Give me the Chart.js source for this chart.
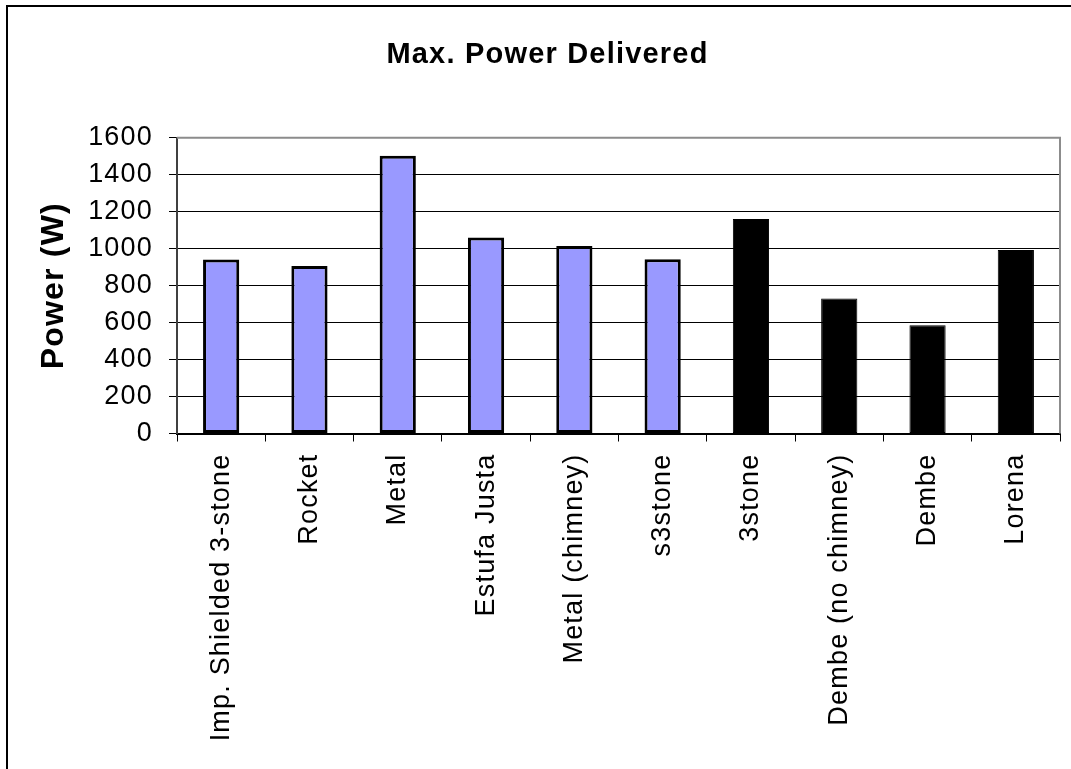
<!DOCTYPE html>
<html>
<head>
<meta charset="utf-8">
<title>Max. Power Delivered</title>
<script src="https://cdn.jsdelivr.net/npm/chart.js@4/dist/chart.umd.min.js"></script>
<style>
  html, body { margin: 0; padding: 0; background: #fff; overflow: hidden; }
  #wrap { position: relative; width: 1071px; height: 769px; }
  #frame { position: absolute; left: 6px; top: 5px; width: 1200px; height: 900px;
           border-left: 2px solid #000; border-top: 2px solid #000; pointer-events: none; }
  canvas { position: absolute; left: 0; top: 0; }
</style>
</head>
<body>
<div id="wrap">
  <canvas id="chart" width="1071" height="769"></canvas>
  <div id="frame"></div>
</div>
<script>
// Stove names along the category axis
const categories = [
  'Imp. Shielded 3-stone', 'Rocket', 'Metal', 'Estufa Justa', 'Metal (chimney)',
  's3stone', '3stone', 'Dembe (no chimney)', 'Dembe', 'Lorena'
];
// Maximum power delivered (W), improved stoves
const improvedPower = [942, 906, 1503, 1060, 1015, 943, null, null, null, null];
// Maximum power delivered (W), traditional stoves
const traditionalPower = [null, null, null, null, null, null, 1160, 730, 586, 993];
// Power axis ticks
const powerTicks = [0, 200, 400, 600, 800, 1000, 1200, 1400, 1600];

const FONT = '"Liberation Sans", Arial, Helvetica, sans-serif';

// Slightly wider text tracking for every label on the canvas
const tracking = {
  id: 'tracking',
  beforeLayout(chart) { chart.ctx.letterSpacing = '1.2px'; },
  beforeDraw(chart) { chart.ctx.letterSpacing = '1.2px'; }
};

// Grey top and right edges of the plot area
const plotFrame = {
  id: 'plotFrame',
  afterDatasetsDraw(chart) {
    const { ctx, chartArea: a } = chart;
    ctx.save();
    ctx.strokeStyle = '#8c8c8c';
    ctx.lineWidth = 2;
    ctx.beginPath();
    ctx.moveTo(a.left, a.top);
    ctx.lineTo(a.right, a.top);
    ctx.lineTo(a.right, a.bottom);
    ctx.stroke();
    ctx.restore();
  }
};

new Chart(document.getElementById('chart'), {
  type: 'bar',
  data: {
    labels: categories,
    datasets: [
      {
        label: 'Improved',
        data: improvedPower,
        backgroundColor: '#9999ff',
        borderColor: '#000000',
        borderWidth: 3,
        borderSkipped: false
      },
      {
        label: 'Traditional',
        data: traditionalPower,
        backgroundColor: '#000000',
        borderColor: '#000000',
        borderWidth: 1,
        borderSkipped: false
      }
    ]
  },
  plugins: [tracking, plotFrame],
  options: {
    responsive: false,
    animation: false,
    devicePixelRatio: 1,
    grouped: false,
    barPercentage: 0.41,
    categoryPercentage: 1,
    layout: { padding: { left: 35, right: 11, top: 0, bottom: 0 } },
    plugins: {
      legend: { display: false },
      tooltip: { enabled: false },
      title: {
        display: true,
        text: 'Max. Power Delivered',
        color: '#000',
        font: { family: FONT, size: 29, weight: 'bold', lineHeight: 1.2 },
        padding: { top: 38, bottom: 65 }
      }
    },
    scales: {
      x: {
        grid: {
          display: true,
          offset: true,
          drawOnChartArea: false,
          drawTicks: true,
          tickLength: 8,
          color: '#000',
          lineWidth: 1
        },
        border: { display: true, color: '#000', width: 2 },
        ticks: {
          color: '#000',
          font: { family: FONT, size: 27 },
          minRotation: 90,
          maxRotation: 90,
          autoSkip: false,
          padding: 12
        },
        afterFit(scale) { scale.height = 335.5; }
      },
      y: {
        min: 0,
        max: 1600,
        afterBuildTicks(scale) { scale.ticks = powerTicks.map(v => ({ value: v })); },
        grid: {
          color: '#000',
          lineWidth: 1,
          tickLength: 8,
          drawTicks: true
        },
        border: { display: true, color: '#404040', width: 2 },
        ticks: {
          color: '#000',
          font: { family: FONT, size: 27 },
          padding: 16,
          callback: (v) => String(v)
        },
        title: {
          display: true,
          text: 'Power (W)',
          color: '#000',
          font: { family: FONT, size: 32, weight: 'bold', lineHeight: 1.2 },
          padding: { top: 0, bottom: 0 }
        },
        afterFit(scale) { scale.width = 177 - 35; }
      }
    }
  }
});
</script>
</body>
</html>
